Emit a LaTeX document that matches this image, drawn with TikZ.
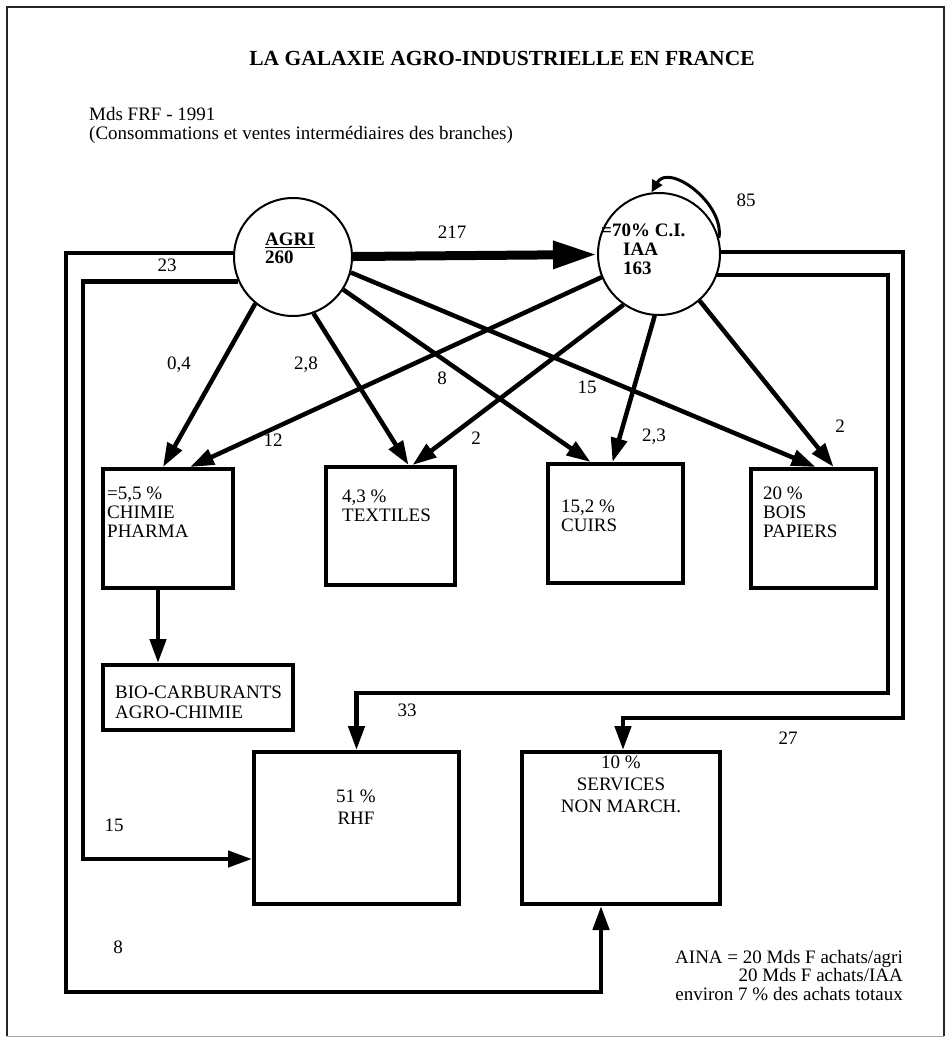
\documentclass[tikz,border=0pt]{standalone}
\usepackage{fontspec}
\setmainfont{Liberation Serif}
\usepackage{tikz}
\usetikzlibrary{arrows.meta}

\begin{document}
\begin{tikzpicture}[x=1pt, y=-1pt,
    font=\fontsize{19}{19}\selectfont,
    pole/.style   = {draw, circle, line width=2pt, minimum size=#1, inner sep=0pt},
    box/.style    = {draw, rectangle, line width=4pt, inner sep=0pt},
    txt/.style    = {align=left, inner sep=0pt, anchor=north west},
    ctxt/.style   = {align=center, inner sep=0pt, anchor=north},
    num/.style    = {inner sep=0pt},
    arr/.style    = {-{Triangle[length=24pt, width=16pt]}, line width=4.5pt},
    flux/.style   = {-{Triangle[length=44pt, width=26pt]}, line width=9pt},
    boucle/.style = {-{Triangle[length=12pt, width=11pt]}, line width=3pt},
]
    \useasboundingbox (0,0) rectangle (949,1038);

    % ── Cadre ──
    \draw[line width=1.5pt, black!85] (7,1036) -- (7,7) -- (944,7) -- (944,1036);
    \draw[line width=0.8pt, black!35] (7,1036) -- (944,1036);

    % ── Titre ──
    \node[font=\fontsize{21.5}{22}\selectfont\bfseries] (titre) at (502, 58) {LA GALAXIE AGRO-INDUSTRIELLE EN FRANCE};
    \node[txt] (unite) at (89, 107) {Mds FRF - 1991\\(Consommations et ventes intermédiaires des branches)};

    % ── Pôles ──
    \node[pole=118pt] (agri) at (293, 257) {};
    \node[pole=122pt] (iaa) at (659, 254) {};
    \node[txt, font=\fontsize{19}{18}\selectfont\bfseries] (agritxt) at (265, 233) {\underline{AGRI}\\260};
    \node[txt, font=\fontsize{19}{19}\selectfont\bfseries] (iaatxt) at (601, 224) {=70\% C.I.\\\hspace*{22pt}IAA\\\hspace*{22pt}163};

    % ── Branches ──
    \node[box, minimum width=130pt, minimum height=119pt] (chimie) at (168, 528.5) {};
    \node[box, minimum width=129pt, minimum height=118pt] (textiles) at (390.5, 526) {};
    \node[box, minimum width=135pt, minimum height=119pt] (cuirs) at (615.5, 523.5) {};
    \node[box, minimum width=125pt, minimum height=119pt] (bois) at (813.5, 528.5) {};
    \node[box, minimum width=190pt, minimum height=65pt] (bio) at (198, 697.5) {};
    \node[box, minimum width=205pt, minimum height=152pt] (rhf) at (356.5, 828) {};
    \node[box, minimum width=198pt, minimum height=152pt] (serv) at (621, 828) {};

    \node[txt] (chimietxt) at (107, 487) {=5,5 \%\\CHIMIE\\PHARMA};
    \node[txt] (textilestxt) at (342, 490) {4,3 \%\\TEXTILES};
    \node[txt] (cuirstxt) at (561, 500) {15,2 \%\\CUIRS};
    \node[txt] (boistxt) at (763, 487) {20 \%\\BOIS\\PAPIERS};
    \node[txt, font=\fontsize{19}{20}\selectfont] (biotxt) at (115, 686) {BIO-CARBURANTS\\AGRO-CHIMIE};
    \node[ctxt, font=\fontsize{19}{22}\selectfont] (rhftxt) at (356, 790) {51 \%\\RHF};
    \node[ctxt, font=\fontsize{19}{22}\selectfont] (servtxt) at (621, 756) {10 \%\\SERVICES\\NON MARCH.};

    % ── Flux AGRI -> IAA ──
    \draw[flux] (agri) -- (iaa);
    \draw[boucle] (iaa.15) to[out=80, in=60, looseness=1.1] (iaa.97);

    % ── Ventes vers les branches ──
    \draw[arr] (agri.-129) -- ([xshift=-5pt]chimie.north);
    \draw[arr] (iaa.-158) -- ([xshift=22pt]chimie.north);
    \draw[arr] (agri.-70) -- ([xshift=18pt]textiles.north);
    \draw[arr] (iaa.-125) -- ([xshift=22pt]textiles.north);
    \draw[arr] (agri.-33) -- ([xshift=-25pt]cuirs.north);
    \draw[arr] (iaa.-94) -- ([xshift=-3pt]cuirs.north);
    \draw[arr] (agri.-15) -- ([xshift=2pt]bois.north);
    \draw[arr] (iaa.-49) -- ([xshift=20pt]bois.north);
    \draw[arr] ([xshift=-10pt]chimie.south) -- ([xshift=-10pt]chimie.south |- bio.north);

    % ── Boucles vers RHF et services ──
    \coordinate (outl) at (66, 992);
    \coordinate (inl) at (83, 859);
    \coordinate (outr) at (903, 718);
    \coordinate (inr) at (888, 693);
    \draw[arr] (agri.176) -| (outl) -| ([xshift=-20pt]serv.south);
    \draw[arr] (agri.-156) -| (inl) -- (inl -| rhf.west);
    \draw[arr] (iaa.2) -| (outr) -| ([xshift=2pt]serv.north);
    \draw[arr] (iaa.-20) -| (inr) -| (rhf.north);

    % ── Valeurs ──
    \node[num] (l217) at (452, 232) {217};
    \node[num] (l85) at (746, 200) {85};
    \node[num] (l23) at (167, 265) {23};
    \node[num] (l04) at (179, 365) {0,4};
    \node[num] (l28) at (306, 365) {2,8};
    \node[num] (l8a) at (442, 378) {8};
    \node[num] (l15a) at (587, 387) {15};
    \node[num] (l12) at (273, 440) {12};
    \node[num] (l2a) at (476, 438) {2};
    \node[num] (l23b) at (654, 437) {2,3};
    \node[num] (l2b) at (840, 426) {2};
    \node[num] (l33) at (407, 710) {33};
    \node[num] (l27) at (788, 738) {27};
    \node[num] (l15b) at (114, 825) {15};
    \node[num] (l8b) at (118, 947) {8};

    % ── Note AINA ──
    \node[align=right, anchor=north east, inner sep=0pt, font=\fontsize{19}{18.5}\selectfont] (aina) at (903, 950) {AINA = 20 Mds F achats/agri\\20 Mds F achats/IAA\\environ 7 \% des achats totaux};

\end{tikzpicture}
\end{document}
